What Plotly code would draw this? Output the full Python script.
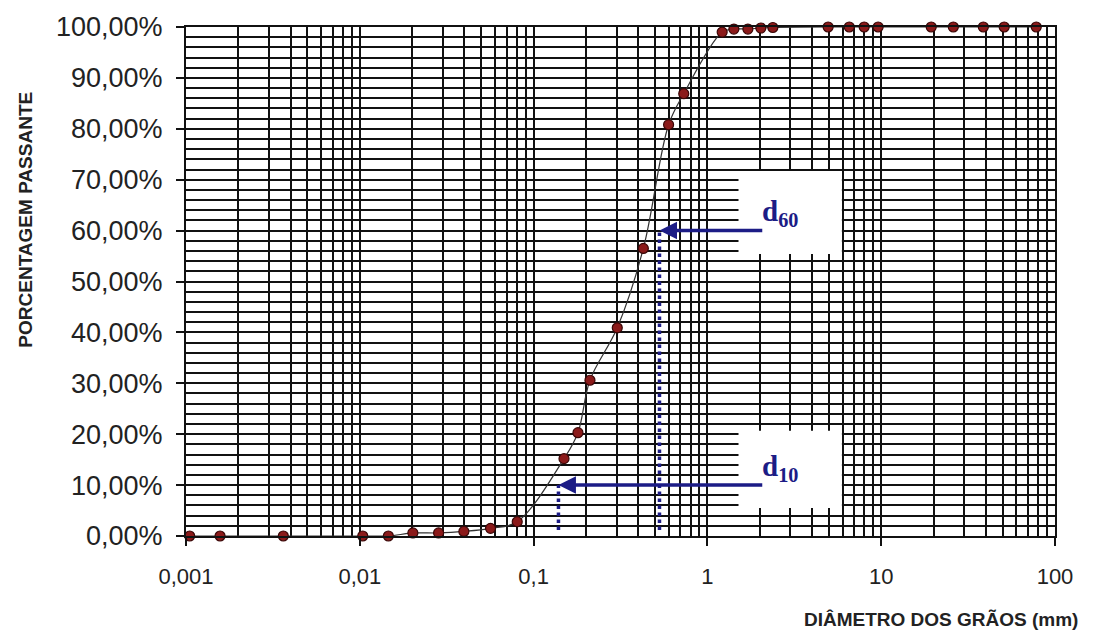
import math
import plotly.graph_objects as go

# ---- data ----
diametro_mm = [0.00105, 0.00157, 0.00363, 0.0104, 0.0146, 0.0202, 0.0284, 0.0397,
               0.0565, 0.0805, 0.1496, 0.180, 0.211, 0.303, 0.428, 0.598, 0.731,
               1.216, 1.42, 1.71, 2.03, 2.38, 4.95, 6.55, 7.98, 9.6, 19.4, 26.0,
               38.7, 51.0, 78.0]
passante_pct = [0.0, 0.0, 0.0, 0.0, 0.0, 0.6, 0.6, 0.9, 1.5, 2.8, 15.2, 20.3,
                30.6, 40.9, 56.5, 80.8, 86.9, 99.0, 99.6, 99.6, 99.8, 99.9,
                100, 100, 100, 100, 100, 100, 100, 100, 100]

y_tick_vals = [0, 10, 20, 30, 40, 50, 60, 70, 80, 90, 100]
y_tick_text = ["0,00%", "10,00%", "20,00%", "30,00%", "40,00%", "50,00%",
               "60,00%", "70,00%", "80,00%", "90,00%", "100,00%"]
x_tick_vals = [0.001, 0.01, 0.1, 1, 10, 100]
x_tick_text = ["0,001", "0,01", "0,1", "1", "10", "100"]

d60 = 0.53
d10 = 0.139
d_levels = {"60": 60, "10": 10}
arrow_tail_mm = 2.11
label_mm = 2.61
label_offset = 3.4
box_x = [1.51, 5.94]
box_60_y = [55.4, 71.7]
box_10_y = [5.5, 20.7]
dotted_bottom = 1.2

navy = "#1c1c86"
L = math.log10

fig = go.Figure()
fig.add_trace(go.Scatter(
    x=diametro_mm, y=passante_pct, mode="lines+markers",
    line=dict(color="#333333", width=1.2, shape="spline", smoothing=1.0),
    marker=dict(size=10, color="#8b1a1a", line=dict(color="#3a0606", width=1.2)),
    cliponaxis=False, showlegend=False, hoverinfo="x+y"))

shapes = []
for ys in (box_60_y, box_10_y):
    shapes.append(dict(type="rect", xref="x", yref="y", layer="above",
                       x0=box_x[0], x1=box_x[1], y0=ys[0], y1=ys[1],
                       fillcolor="white", line=dict(width=0)))
for dv, lev in ((d60, d_levels["60"]), (d10, d_levels["10"])):
    shapes.append(dict(type="line", xref="x", yref="y", layer="above",
                       x0=dv, x1=dv, y0=dotted_bottom, y1=lev,
                       line=dict(color=navy, width=3.5, dash="dot")))
fig.update_layout(shapes=shapes)

annotations = []
for dv, key in ((d60, "60"), (d10, "10")):
    lev = d_levels[key]
    annotations.append(dict(x=L(dv), y=lev, ax=L(arrow_tail_mm), ay=lev,
                            xref="x", yref="y", axref="x", ayref="y",
                            showarrow=True, arrowhead=2, arrowsize=1.0,
                            arrowwidth=3.5, arrowcolor=navy, text=""))
    annotations.append(dict(x=L(label_mm), y=lev + label_offset, xref="x", yref="y",
                            text="<b>d<sub>%s</sub></b>" % key, showarrow=False,
                            font=dict(family="Liberation Serif", size=29, color=navy),
                            xanchor="center", yanchor="middle"))
annotations.append(dict(x=-0.185, y=0.622, xref="paper", yref="paper",
                        text="<b>PORCENTAGEM PASSANTE</b>", textangle=-90,
                        showarrow=False, font=dict(family="Liberation Sans", size=19, color="#222"),
                        xanchor="center", yanchor="middle"))
annotations.append(dict(x=1.029, y=-0.164, xref="paper", yref="paper",
                        text="<b>DIÂMETRO DOS GRÃOS (mm)</b>",
                        showarrow=False, font=dict(family="Liberation Sans", size=19, color="#222"),
                        xanchor="right", yanchor="middle"))
fig.update_layout(annotations=annotations)

fig.update_xaxes(type="log", range=[L(x_tick_vals[0]), L(x_tick_vals[-1])],
                 tickvals=x_tick_vals, ticktext=x_tick_text,
                 ticks="outside", ticklen=8, tickwidth=2, tickcolor="#111",
                 tickfont=dict(family="Liberation Sans", size=22, color="#222"),
                 showline=True, linecolor="#111", linewidth=2, mirror=True,
                 showgrid=True, gridcolor="#111", gridwidth=1.5,
                 minor=dict(dtick="D1", showgrid=True, gridcolor="#111", gridwidth=1.5, ticks=""),
                 zeroline=False, ticklabelstandoff=12)
fig.update_yaxes(range=[0, 100], tickvals=y_tick_vals, ticktext=y_tick_text,
                 ticks="outside", ticklen=8, tickwidth=2, tickcolor="#111",
                 tickfont=dict(family="Liberation Sans", size=27, color="#222"),
                 showline=True, linecolor="#111", linewidth=2, mirror=True,
                 showgrid=True, gridcolor="#111", gridwidth=1.5,
                 minor=dict(dtick=2, showgrid=True, gridcolor="#111", gridwidth=1.5, ticks=""),
                 zeroline=False, ticklabelstandoff=8)

fig.update_layout(width=1097, height=633, margin=dict(l=186, r=42, t=23, b=97),
                  paper_bgcolor="white", plot_bgcolor="white")
fig.write_html("out.html", config={"displayModeBar": False},
               post_script="document.body.style.margin='0';document.body.style.padding='0';")
